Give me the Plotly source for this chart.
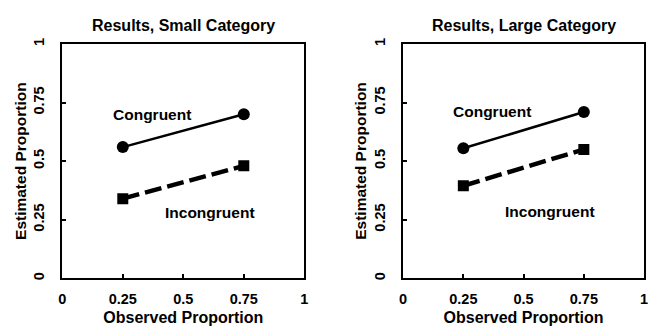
import plotly.graph_objects as go
from plotly.subplots import make_subplots

observed = [0.25, 0.75]
small_congruent = [0.56, 0.70]
small_incongruent = [0.34, 0.48]
large_congruent = [0.555, 0.71]
large_incongruent = [0.395, 0.55]
panel_titles = ["Results, Small Category", "Results, Large Category"]
tick_vals = [0, 0.25, 0.5, 0.75, 1]
tick_text = ["0", "0.25", "0.5", "0.75", "1"]

FONT = "Liberation Sans, Arial, sans-serif"

def bold(s):
    return "<b>" + s + "</b>"

fig = make_subplots(rows=1, cols=2)

panels = [(small_congruent, small_incongruent), (large_congruent, large_incongruent)]
for i, (cong, incong) in enumerate(panels, start=1):
    fig.add_trace(go.Scatter(x=observed, y=cong, mode="lines+markers",
                             line=dict(color="black", width=2.5),
                             marker=dict(symbol="circle", size=12, color="black"),
                             showlegend=False, hoverinfo="skip"), row=1, col=i)
    fig.add_trace(go.Scatter(x=observed, y=incong, mode="lines+markers",
                             line=dict(color="black", width=4.5, dash="17px,6px"),
                             marker=dict(symbol="square", size=11, color="black"),
                             showlegend=False, hoverinfo="skip"), row=1, col=i)
    xr = "x" if i == 1 else "x2"
    yr = "y" if i == 1 else "y2"
    fig.add_annotation(x=0.37, y=0.70 if i == 1 else 0.71, xref=xr, yref=yr, text=bold("Congruent"),
                       showarrow=False, xanchor="center", yanchor="middle",
                       font=dict(family=FONT, size=15.5, color="black"))
    fig.add_annotation(x=0.61, y=0.28 if i == 1 else 0.285, xref=xr, yref=yr, text=bold("Incongruent"),
                       showarrow=False, xanchor="center", yanchor="middle",
                       font=dict(family=FONT, size=15.5, color="black"))

axis_common = dict(range=[0, 1], tickvals=tick_vals, ticktext=[bold(t) for t in tick_text],
                   showgrid=False, zeroline=False, showline=True, linecolor="black", linewidth=2,
                   mirror=True, ticks="inside", ticklen=4, tickwidth=1.5, tickcolor="black",
                   tickfont=dict(family=FONT, size=14.5, color="black"))

xt = dict(text=bold("Observed Proportion"), standoff=6, font=dict(family=FONT, size=16, color="black"))

fig.update_layout(
    width=657, height=331, margin=dict(l=0, r=0, t=0, b=0),
    paper_bgcolor="white", plot_bgcolor="white",
    xaxis=dict(domain=[59/657, 304/657], title=xt, ticklabelstandoff=6, **axis_common),
    xaxis2=dict(domain=[404/657, 648/657], title=xt, ticklabelstandoff=6, **axis_common),
    yaxis=dict(domain=[1-279/331, 1-39/331], tickangle=-90, ticklabelstandoff=10, **axis_common),
    yaxis2=dict(domain=[1-279/331, 1-39/331], tickangle=-90, ticklabelstandoff=10, **axis_common),
)

for i, t in enumerate(panel_titles):
    cx = (59 + 304) / 2 / 657 if i == 0 else (404 + 648) / 2 / 657
    fig.add_annotation(x=cx, y=1 - 20/331, xref="paper", yref="paper", text=bold(t), showarrow=False,
                       xanchor="center", yanchor="middle",
                       font=dict(family=FONT, size=16, color="black"))

# y axis titles
for px in (16, 361):
    fig.add_annotation(x=px/657, y=1 - 159/331, xref="paper", yref="paper",
                       text=bold("Estimated Proportion"), textangle=-90, showarrow=False,
                       xanchor="center", yanchor="middle",
                       font=dict(family=FONT, size=15.5, color="black"))

fig.write_html("out.html")
